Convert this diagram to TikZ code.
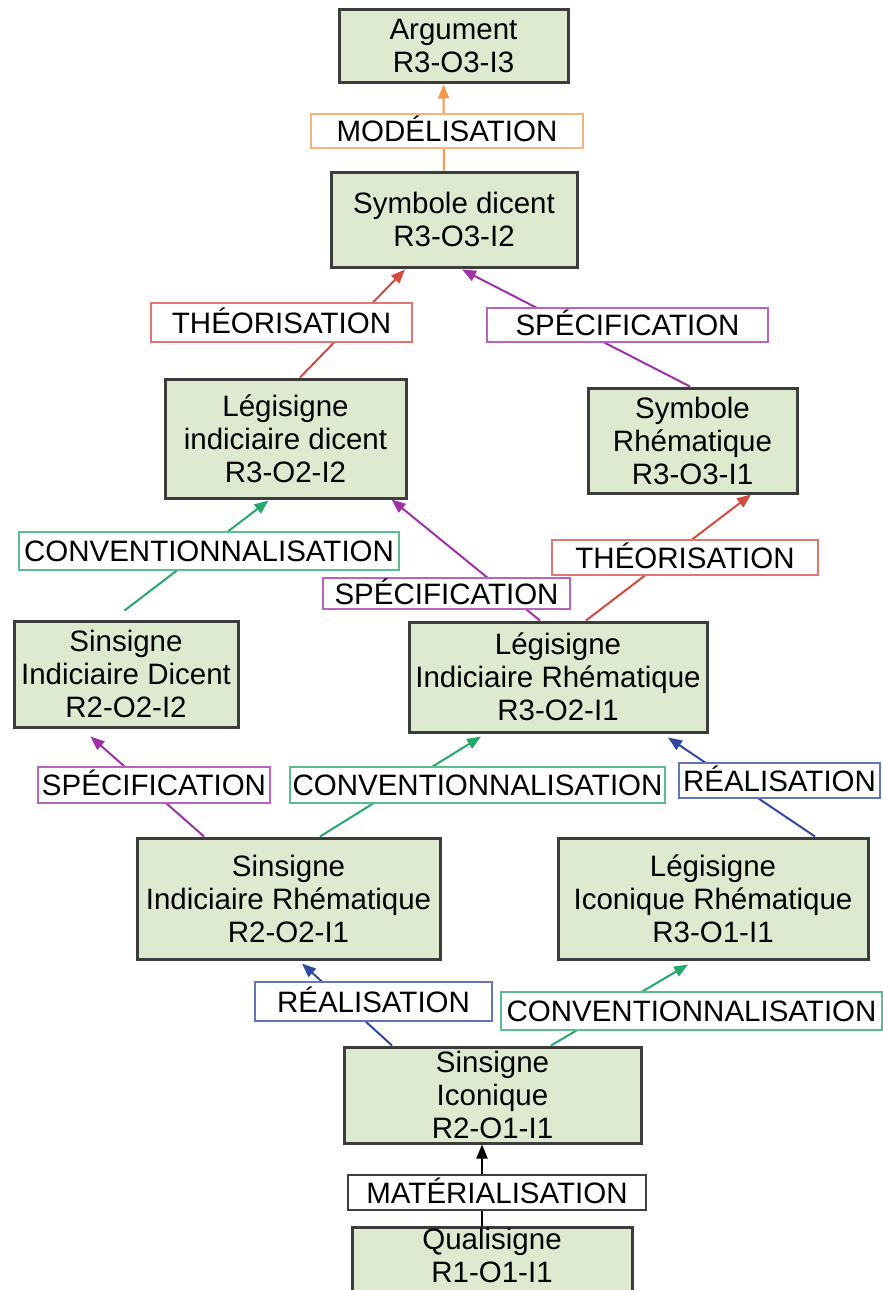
\documentclass[tikz,border=0pt]{standalone}
\usepackage{fontspec}
\setmainfont{Liberation Sans}
\usepackage{tikz}
\usetikzlibrary{
  arrows.meta
}
\definecolor{signfill}{RGB}{222,234,208}
\definecolor{signdraw}{RGB}{60,60,60}
\definecolor{relorange}{RGB}{246,152,78}
\definecolor{relred}{RGB}{212,74,64}
\definecolor{relpurple}{RGB}{158,48,168}
\definecolor{relgreen}{RGB}{36,168,108}
\definecolor{relblue}{RGB}{48,72,160}
\tikzset{
  signBox/.style={
    rectangle,
    draw=signdraw,
    fill=signfill,
    line width=3pt,
    inner sep=0pt,
    align=center,
    font=\fontsize{29.5}{33}\selectfont
  },
  relLabel/.style={
    rectangle,
    draw=#1!75!white,
    fill=white,
    line width=2pt,
    inner sep=0pt,
    text height=21pt,
    text depth=0pt,
    font=\fontsize{29.5}{33}\selectfont
  },
  relArrow/.style={
    -{Triangle[length=14pt,width=11pt]},
    line width=2pt,
    draw=#1,
    fill=#1
  }
}

\begin{document}
\begin{tikzpicture}[x=1pt,y=-1pt]
  \useasboundingbox (0,0) rectangle (883,1290);
  \clip (0,0) rectangle (883,1290);

  % signs
  \node[signBox, minimum width=229pt, minimum height=72pt] (arg) at (453.5,46) {Argument\\R3-O3-I3};
  \node[signBox, minimum width=246pt, minimum height=95pt] (symdic) at (454,219.5) {Symbole dicent\\R3-O3-I2};
  \node[signBox, minimum width=241pt, minimum height=119pt] (legidic) at (285.5,438.5) {Légisigne\\indiciaire dicent\\R3-O2-I2};
  \node[signBox, minimum width=209pt, minimum height=105pt] (symrhe) at (692.5,440.5) {Symbole\\Rhématique\\R3-O3-I1};
  \node[signBox, minimum width=224pt, minimum height=106pt] (sinidic) at (126,674) {Sinsigne\\Indiciaire Dicent\\R2-O2-I2};
  \node[signBox, minimum width=298pt, minimum height=110pt] (legirhe) at (558,677) {Légisigne\\Indiciaire Rhématique\\R3-O2-I1};
  \node[signBox, minimum width=303pt, minimum height=121pt] (sinirhe) at (288.5,898.5) {Sinsigne\\Indiciaire Rhématique\\R2-O2-I1};
  \node[signBox, minimum width=310pt, minimum height=121pt] (legicrhe) at (713,898.5) {Légisigne\\Iconique Rhématique\\R3-O1-I1};
  \node[signBox, minimum width=297pt, minimum height=96pt] (sinico) at (492.5,1095) {Sinsigne\\Iconique\\R2-O1-I1};
  \node[signBox, minimum width=280pt, minimum height=80pt, text depth=24pt] (quali) at (492,1267) {Qualisigne\\R1-O1-I1};

  % relations
  \draw[relArrow=relorange] ([xshift=-10pt]symdic.north) -- ([xshift=-10pt,yshift=-1pt]arg.south);
  \draw[relArrow=relred] ([xshift=14.5pt]legidic.north) -- ([xshift=-49pt,yshift=-1pt]symdic.south);
  \draw[relArrow=relpurple] ([xshift=-2.5pt]symrhe.north) -- ([xshift=8pt,yshift=-1pt]symdic.south);
  \draw[relArrow=relgreen] ([xshift=-1.5pt,yshift=9pt]sinidic.north) -- ([xshift=-17pt,yshift=-1pt]legidic.south);
  \draw[relArrow=relpurple] ([xshift=-18pt]legirhe.north) -- ([xshift=106pt]legidic.south);
  \draw[relArrow=relred] ([xshift=28pt]legirhe.north) -- ([xshift=58.5pt]symrhe.south);
  \draw[relArrow=relpurple] ([xshift=-84.5pt]sinirhe.north) -- ([xshift=-35.5pt,yshift=-8pt]sinidic.south);
  \draw[relArrow=relgreen] ([xshift=31.5pt]sinirhe.north) -- ([xshift=-77pt,yshift=-3pt]legirhe.south);
  \draw[relArrow=relblue] ([xshift=102pt]legicrhe.north) -- ([xshift=110pt,yshift=-4pt]legirhe.south);
  \draw[relArrow=relblue] ([xshift=-100.5pt]sinico.north) -- ([xshift=13.5pt,yshift=-3pt]sinirhe.south);
  \draw[relArrow=relgreen] ([xshift=58.5pt]sinico.north) -- ([xshift=-25pt,yshift=-4pt]legicrhe.south);
  \draw[relArrow=black] ([xshift=-10pt]quali.north) -- ([xshift=-10.5pt]sinico.south);

  % relation labels
  \node[relLabel=relorange, minimum width=272pt, minimum height=34pt] (lmod) at (447,131) {MODÉLISATION};
  \node[relLabel=relred, minimum width=261pt, minimum height=39pt] (ltheoa) at (281.5,322.5) {THÉORISATION};
  \node[relLabel=relpurple, minimum width=281pt, minimum height=34pt] (lspeca) at (627.5,325) {SPÉCIFICATION};
  \node[relLabel=relgreen, minimum width=380pt, minimum height=38pt] (lconva) at (209,551) {CONVENTIONNALISATION};
  \node[relLabel=relpurple, minimum width=247pt, minimum height=31pt] (lspecb) at (446.5,593.5) {SPÉCIFICATION};
  \node[relLabel=relred, minimum width=266pt, minimum height=35pt] (ltheob) at (685,557.5) {THÉORISATION};
  \node[relLabel=relpurple, minimum width=232pt, minimum height=36pt] (lspecc) at (154,785) {SPÉCIFICATION};
  \node[relLabel=relgreen, minimum width=375pt, minimum height=36pt] (lconvb) at (477.5,785) {CONVENTIONNALISATION};
  \node[relLabel=relblue, minimum width=201pt, minimum height=35pt] (lreala) at (779.5,780.5) {RÉALISATION};
  \node[relLabel=relblue, minimum width=237pt, minimum height=39pt] (lrealb) at (373.5,1001.5) {RÉALISATION};
  \node[relLabel=relgreen, minimum width=381pt, minimum height=38pt] (lconvc) at (691.5,1011) {CONVENTIONNALISATION};
  \node[relLabel=black, minimum width=298pt, minimum height=35pt] (lmat) at (497,1192.5) {MATÉRIALISATION};
\end{tikzpicture}
\end{document}
